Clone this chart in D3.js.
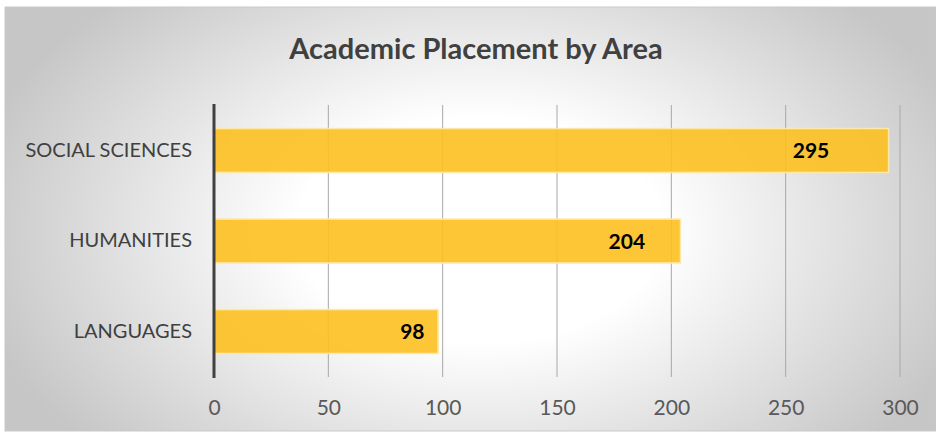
<!DOCTYPE html>
<html>
<head>
<meta charset="utf-8">
<script src="https://cdn.jsdelivr.net/npm/d3@7"></script>
<style>
  body { margin: 0; background: #fff; }
  svg text { font-family: Lato, "Open Sans", sans-serif; }
</style>
</head>
<body>
<div id="chart"></div>
<script>
var categories = ["SOCIAL SCIENCES", "HUMANITIES", "LANGUAGES"];
var placements = [295, 204, 98];
var xTicks = [0, 50, 100, 150, 200, 250, 300];
var chartTitle = "Academic Placement by Area";

var width = 936, height = 433;
var padding = {top: 105, bottom: 56, left: 214, right: 36};

var svg = d3.select("#chart").append("svg").attr("width", width).attr("height", height);

// background gradient like the office chart
var defs = svg.append("defs");
var grad = defs.append("radialGradient")
	.attr("id", "bg")
	.attr("gradientUnits", "userSpaceOnUse")
	.attr("cx", 480).attr("cy", 230).attr("r", 520)
	.attr("gradientTransform", "translate(480,230) scale(1,0.62) translate(-480,-230)");
grad.append("stop").attr("offset", "0%").attr("stop-color", "#ffffff");
grad.append("stop").attr("offset", "35%").attr("stop-color", "#ffffff");
grad.append("stop").attr("offset", "100%").attr("stop-color", "#c6c6c6");

svg.append("rect")
	.attr("x", 5).attr("y", 7)
	.attr("width", width - 5).attr("height", height - 9)
	.style("fill", "url(#bg)")
	.style("stroke", "#c9c9c9")
	.style("stroke-width", 1);

var x = d3.scaleLinear().domain([0, 300]).range([padding.left, width - padding.right]);
var y = d3.scaleBand().domain(categories).range([padding.top, height - padding.bottom]).paddingInner(0.515).paddingOuter(0.26);

// gridlines
svg.append("g")
	.selectAll("line")
	.data(xTicks.slice(1))
	.enter()
	.append("line")
	.attr("x1", function(d) { return x(d); })
	.attr("x2", function(d) { return x(d); })
	.attr("y1", padding.top)
	.attr("y2", height - padding.bottom)
	.style("stroke", "#a8a8a8")
	.style("stroke-width", 1);

// x tick labels
var xAxis = d3.axisBottom(x).tickValues(xTicks).tickSize(0).tickPadding(0);
var gx = svg.append("g")
	.attr("transform", "translate(0," + (height - padding.bottom) + ")")
	.call(xAxis);
gx.select(".domain").remove();
gx.selectAll("text")
	.attr("dy", "1.8em")
	.style("font-size", "21px")
	.style("fill", "#595959");

// bars
var bars = svg.append("g");
for (var i = 0; i < categories.length; i++) {
	bars.append("rect")
		.attr("x", x(0))
		.attr("y", y(categories[i]))
		.attr("width", x(placements[i]) - x(0))
		.attr("height", y.bandwidth())
		.style("fill", "#fdc020")
		.style("fill-opacity", 0.9)
		.style("stroke", "#fde9a6")
		.style("stroke-width", 1.5);

	svg.append("text")
		.attr("x", x(placements[i] * 0.885))
		.attr("y", y(categories[i]) + y.bandwidth() / 2)
		.attr("dy", "0.36em")
		.style("text-anchor", "middle")
		.style("font-size", "21px")
		.style("font-weight", "bold")
		.style("fill", "#000")
		.text(placements[i]);
}

// category labels
var yAxis = d3.axisLeft(y).tickSize(0).tickPadding(22);
var gy = svg.append("g")
	.attr("transform", "translate(" + padding.left + ",0)")
	.call(yAxis);
gy.select(".domain").remove();
gy.selectAll("text")
	.style("font-size", "20px")
	.style("fill", "#404040");

// vertical axis line
svg.append("line")
	.attr("x1", x(0)).attr("x2", x(0))
	.attr("y1", padding.top - 1)
	.attr("y2", height - padding.bottom + 1)
	.style("stroke", "#404040")
	.style("stroke-width", 3);

// title
svg.append("text")
	.attr("x", 476)
	.attr("y", 59)
	.style("text-anchor", "middle")
	.style("font-size", "29px")
	.style("font-weight", "bold")
	.style("fill", "#404040")
	.text(chartTitle);
</script>
</body>
</html>
